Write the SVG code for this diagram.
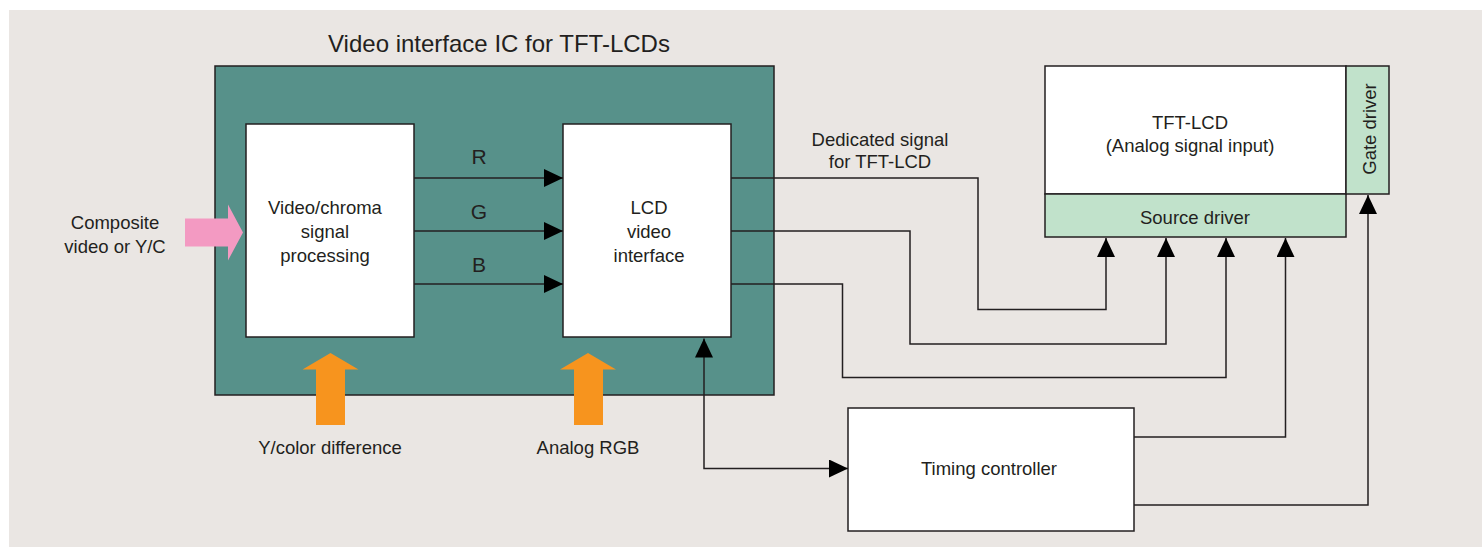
<svg xmlns="http://www.w3.org/2000/svg" width="1482" height="547" viewBox="0 0 1482 547">
  <defs>
    <style>
      .t { font-family: "Liberation Sans", Arial, sans-serif; font-size: 18.5px; fill: #231F20; text-anchor: middle; }
      .title { font-size: 24px; }
      .rgb { font-size: 21px; }
      .box { stroke: #231F20; stroke-width: 1.5; }
      .white { fill: #FFFFFF; }
      .lg { fill: #C1E2CB; }
      .ic { fill: #57918A; }
      .wire { fill: none; stroke: #231F20; stroke-width: 1.5; }
      .orange { fill: #F7941E; }
      .pink { fill: #F39AC2; }
    </style>
    <marker id="ah" markerUnits="userSpaceOnUse" markerWidth="19" markerHeight="18" refX="19" refY="9" orient="auto-start-reverse" viewBox="0 0 19 18">
      <path d="M0,0 L19,9 L0,18 Z" fill="#000000"/>
    </marker>
  </defs>

  <rect x="9" y="10" width="1473" height="537" fill="#EAE6E3"/>

  <g id="ic">
    <text class="t title" x="499" y="52">Video interface IC for TFT-LCDs</text>
    <rect class="box ic" x="215" y="66" width="559" height="329"/>
  </g>

  <g id="composite-input">
    <polygon class="pink" points="185,218.5 228,218.5 228,204.5 243,232.5 228,260.5 228,246.5 185,246.5"/>
    <text class="t" x="115" y="229">Composite</text>
    <text class="t" x="115" y="253">video or Y/C</text>
  </g>

  <g id="video-chroma">
    <rect class="box white" x="246" y="124" width="168" height="213"/>
    <text class="t" x="325" y="213.5">Video/chroma</text>
    <text class="t" x="325" y="237.5">signal</text>
    <text class="t" x="325" y="261.5">processing</text>
  </g>

  <g id="lcd-video-interface">
    <rect class="box white" x="563" y="124" width="168" height="213"/>
    <text class="t" x="649" y="214">LCD</text>
    <text class="t" x="649" y="238">video</text>
    <text class="t" x="649" y="262">interface</text>
  </g>

  <g id="ycolor-input">
    <polygon class="orange" points="316,425 316,369.5 302.5,369.5 330.5,353 358.5,369.5 345,369.5 345,425"/>
    <text class="t" x="330" y="454">Y/color difference</text>
  </g>

  <g id="analog-rgb-input">
    <polygon class="orange" points="574,425 574,369.5 560,369.5 588,353 616,369.5 603,369.5 603,425"/>
    <text class="t" x="588" y="454">Analog RGB</text>
  </g>

  <g id="tft-lcd">
    <rect class="box white" x="1045" y="66" width="301" height="128"/>
    <text class="t" x="1190" y="129">TFT-LCD</text>
    <text class="t" x="1190" y="152">(Analog signal input)</text>
  </g>

  <g id="source-driver">
    <rect class="box lg" x="1045" y="194" width="301" height="43"/>
    <text class="t" x="1195" y="224">Source driver</text>
  </g>

  <g id="gate-driver">
    <rect class="box lg" x="1346" y="66" width="43" height="128"/>
    <text class="t" transform="translate(1376,129) rotate(-90)" x="0" y="0">Gate driver</text>
  </g>

  <g id="timing-controller">
    <rect class="box white" x="848" y="408" width="286" height="123"/>
    <text class="t" x="989" y="475">Timing controller</text>
  </g>

  <g id="connectors">
    <path class="wire" d="M414,178 H563" marker-end="url(#ah)"/>
    <path class="wire" d="M414,231 H563" marker-end="url(#ah)"/>
    <path class="wire" d="M414,284 H563" marker-end="url(#ah)"/>
    <path class="wire" d="M731,178 H978 V309.5 H1106 V238" marker-end="url(#ah)"/>
    <path class="wire" d="M731,231 H910 V344 H1166 V238" marker-end="url(#ah)"/>
    <path class="wire" d="M731,284 H842.5 V377.5 H1226 V238" marker-end="url(#ah)"/>
    <path class="wire" d="M1134,437 H1285.5 V238" marker-end="url(#ah)"/>
    <path class="wire" d="M1134,505 H1368 V195" marker-end="url(#ah)"/>
    <path class="wire" d="M704,338.5 V468.5 H848" marker-start="url(#ah)" marker-end="url(#ah)"/>
  </g>

  <g id="labels">
    <text class="t rgb" x="479" y="163.5">R</text>
    <text class="t rgb" x="479" y="219">G</text>
    <text class="t rgb" x="479" y="272">B</text>
    <text class="t" x="880" y="145.5">Dedicated signal</text>
    <text class="t" x="880" y="167.5">for TFT-LCD</text>
  </g>
</svg>
